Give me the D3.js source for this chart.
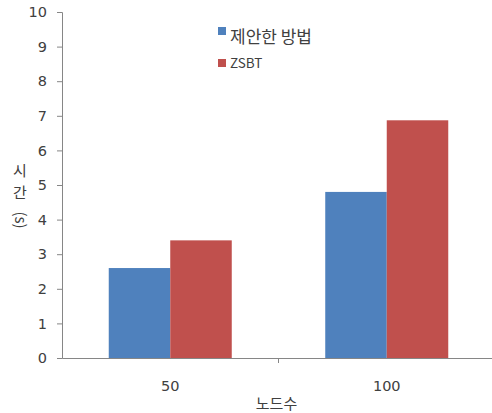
<!DOCTYPE html>
<html>
<head>
<meta charset="utf-8">
<script src="https://cdn.jsdelivr.net/npm/d3@7"></script>
<style>
  html, body { margin: 0; padding: 0; background: #fff; }
  svg { display: block; }
  text { font-family: "Noto Sans CJK KR", "DejaVu Sans", sans-serif; fill: #404040; }
</style>
</head>
<body>
<svg id="chart" width="492" height="413"></svg>
<script>
// Node counts on the x axis
const categories = ["50", "100"];
// Series names and their timings (seconds)
const seriesNames = ["제안한 방법", "ZSBT"];
const proposed = [2.6, 4.8];
const zsbt = [3.4, 6.87];
const seriesColors = ["#4F81BD", "#C0504D"];
const yTicks = [0, 1, 2, 3, 4, 5, 6, 7, 8, 9, 10];

const svg = d3.select("#chart");
const plotLeft = 62, plotRight = 495, plotTop = 12, plotBottom = 358;

const x = d3.scaleBand().domain(categories).range([plotLeft, plotRight]).paddingInner(0).paddingOuter(0);
const xs = d3.scaleBand().domain(seriesNames).range([0, x.bandwidth()]).paddingInner(0).paddingOuter(0.76);
const y = d3.scaleLinear().domain([0, 10]).range([plotBottom, plotTop]);

const rows = categories.map((c, i) => ({ cat: c, vals: [proposed[i], zsbt[i]] }));

// Bars
const g = svg.append("g");
rows.forEach(r => {
  r.vals.forEach((v, j) => {
    g.append("rect")
      .attr("x", x(r.cat) + xs(seriesNames[j]))
      .attr("y", y(v))
      .attr("width", xs.bandwidth())
      .attr("height", y(0) - y(v))
      .attr("fill", seriesColors[j]);
  });
});

const tickFont = "'DejaVu Sans', sans-serif";

// Y axis
const yAxis = svg.append("g")
  .attr("transform", `translate(${plotLeft},0)`)
  .call(d3.axisLeft(y).tickValues(yTicks).tickSize(5).tickPadding(10).tickFormat(d3.format("d")));
yAxis.select(".domain").attr("stroke", "#868686");
yAxis.selectAll(".tick line").attr("stroke", "#868686");
yAxis.selectAll(".tick text").style("font-size", "14.5px").style("font-family", tickFont).attr("fill", "#404040");

// X axis
const xAxis = svg.append("g")
  .attr("transform", `translate(0,${plotBottom})`)
  .call(d3.axisBottom(x).tickSize(0).tickPadding(23));
xAxis.select(".domain").attr("stroke", "#868686");
xAxis.selectAll(".tick text").style("font-size", "14.5px").style("font-family", tickFont).attr("fill", "#404040");
// Boundary tick between categories
xAxis.append("line")
  .attr("x1", x(categories[1])).attr("x2", x(categories[1]))
  .attr("y1", 0).attr("y2", 5)
  .attr("stroke", "#868686");

// Axis titles
svg.append("text").attr("x", (plotLeft + plotRight) / 2 - 2).attr("y", 409)
  .attr("text-anchor", "middle").style("font-size", "15px").text("노드수");

const yt = svg.append("g").attr("transform", "translate(20,0)");
yt.append("text").attr("x", 0).attr("y", 176).attr("text-anchor", "middle").style("font-size", "15px").text("시");
yt.append("text").attr("x", 0).attr("y", 198).attr("text-anchor", "middle").style("font-size", "15px").text("간");
yt.append("text").attr("transform", "translate(-5,220) rotate(90)")
  .attr("text-anchor", "middle").style("font-size", "15px").text("(s)");

// Legend
const legend = svg.append("g");
const legendRows = [
  { y: 35, size: 17 },
  { y: 67, size: 13.5 }
];
seriesNames.forEach((name, i) => {
  const row = legendRows[i];
  legend.append("rect").attr("x", 218).attr("y", row.y - 8).attr("width", 8).attr("height", 8).attr("fill", seriesColors[i]);
  legend.append("text").attr("x", 230).attr("y", row.y + (i === 0 ? 8 : 1))
    .style("font-size", row.size + "px").text(name);
});
</script>
</body>
</html>
